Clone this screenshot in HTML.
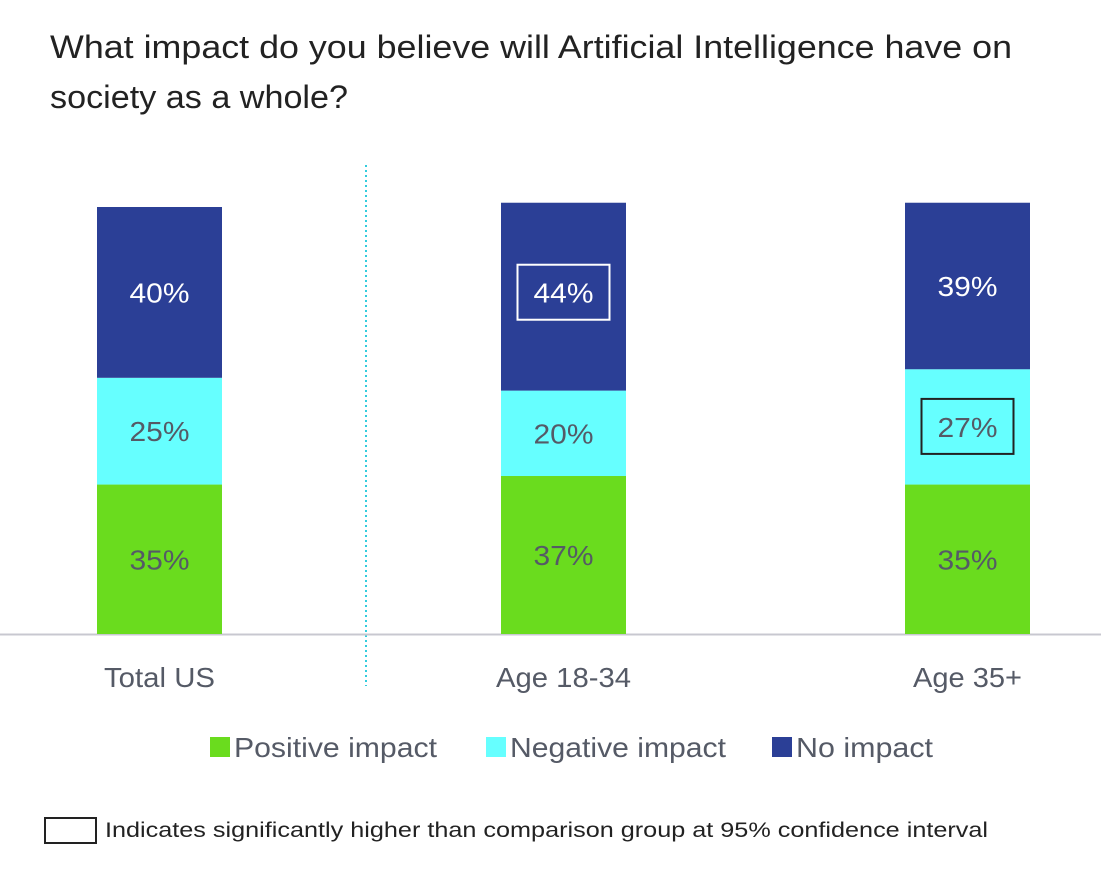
<!DOCTYPE html>
<html><head><meta charset="utf-8">
<style>
html,body{margin:0;padding:0;background:#fff;}
body{width:1101px;height:879px;position:relative;overflow:hidden;font-family:"Liberation Sans",sans-serif;}
svg{position:absolute;left:0;top:0;}
</style></head>
<body>
<svg id="chart" width="1101" height="879">
<text x="50" y="58" font-size="32" fill="#222" textLength="962" lengthAdjust="spacingAndGlyphs">What impact do you believe will Artificial Intelligence have on</text>
<text x="50" y="108" font-size="32" fill="#222" textLength="298" lengthAdjust="spacingAndGlyphs">society as a whole?</text>
<line x1="366" y1="165" x2="366" y2="686" stroke="#33CCDD" stroke-width="2" stroke-dasharray="2,3"/>
<line x1="0" y1="634.5" x2="1101" y2="634.5" stroke="#C8C8D0" stroke-width="2"/>
<g id="bars"></g>
<g id="legend"></g>
<rect x="45" y="818" width="51" height="25" fill="none" stroke="#222" stroke-width="2"/>
<text x="105" y="837" font-size="21" fill="#222" textLength="883" lengthAdjust="spacingAndGlyphs">Indicates significantly higher than comparison group at 95% confidence interval</text>
</svg>
<script>
const categories = ["Total US", "Age 18-34", "Age 35+"];
const positive = [35, 37, 35];
const negative = [25, 20, 27];
const noImpact = [40, 44, 39];
const highlightNegative = [false, false, true];
const highlightNo = [false, true, false];
const seriesNames = ["Positive impact", "Negative impact", "No impact"];

const NS = "http://www.w3.org/2000/svg";
const baseY = 634, pxPer = 4.27, barW = 125;
const yScale = v => v * pxPer;
const xCenter = i => 159.5 + i * 404;
const colors = ["#6ADC1E", "#66FFFF", "#2B3F96"];
const textCol = ["#555a66", "#555a66", "#ffffff"];
const catLen = [111, 135, 109];
const legLen = [203, 216, 137];
const bars = document.getElementById("bars");
function mk(tag, attrs) { const e = document.createElementNS(NS, tag); for (const k in attrs) e.setAttribute(k, attrs[k]); return e; }

categories.forEach((c, i) => {
  const vals = [positive[i], negative[i], noImpact[i]];
  const hl = [false, highlightNegative[i], highlightNo[i]];
  let y = baseY;
  vals.forEach((v, s) => {
    const h = yScale(v);
    y -= h;
    const r = mk("rect", {x: xCenter(i) - barW / 2, y: y, width: barW, height: h, fill: colors[s]});
    
    
    bars.appendChild(r);
    let ty = y + h / 2 + 10;
    if (s === 2) ty = y + Math.min(h / 2, 90) + 10;
    if (hl[s]) {
      const b = mk("rect", {x: xCenter(i) - 46, y: ty - 38, width: 92, height: 55, fill: "none", stroke: s === 2 ? "#fff" : "#222", "stroke-width": 2});
      
      
      bars.appendChild(b);
    }
    const t = mk("text", {x: xCenter(i) - 30, y: ty, "font-size": 28, fill: textCol[s], textLength: 60, lengthAdjust: "spacingAndGlyphs"});
    t.textContent = v + "%";
    
    
    bars.appendChild(t);
  });
  const lab = mk("text", {x: xCenter(i) - catLen[i] / 2, y: 687, "font-size": 28, fill: "#555a66", textLength: catLen[i], lengthAdjust: "spacingAndGlyphs"});
  lab.textContent = c;
  
  
  bars.appendChild(lab);
});

const legend = document.getElementById("legend");
const legX = [210, 486, 772];
seriesNames.forEach((n, s) => {
  const sq = mk("rect", {x: legX[s], y: 737, width: 20, height: 20, fill: colors[s]});
  
  
  legend.appendChild(sq);
  const t = mk("text", {x: legX[s] + 24, y: 757, "font-size": 28, fill: "#555a66", textLength: legLen[s], lengthAdjust: "spacingAndGlyphs"});
  t.textContent = n;
  
  
  legend.appendChild(t);
});
</script>
</body></html>
